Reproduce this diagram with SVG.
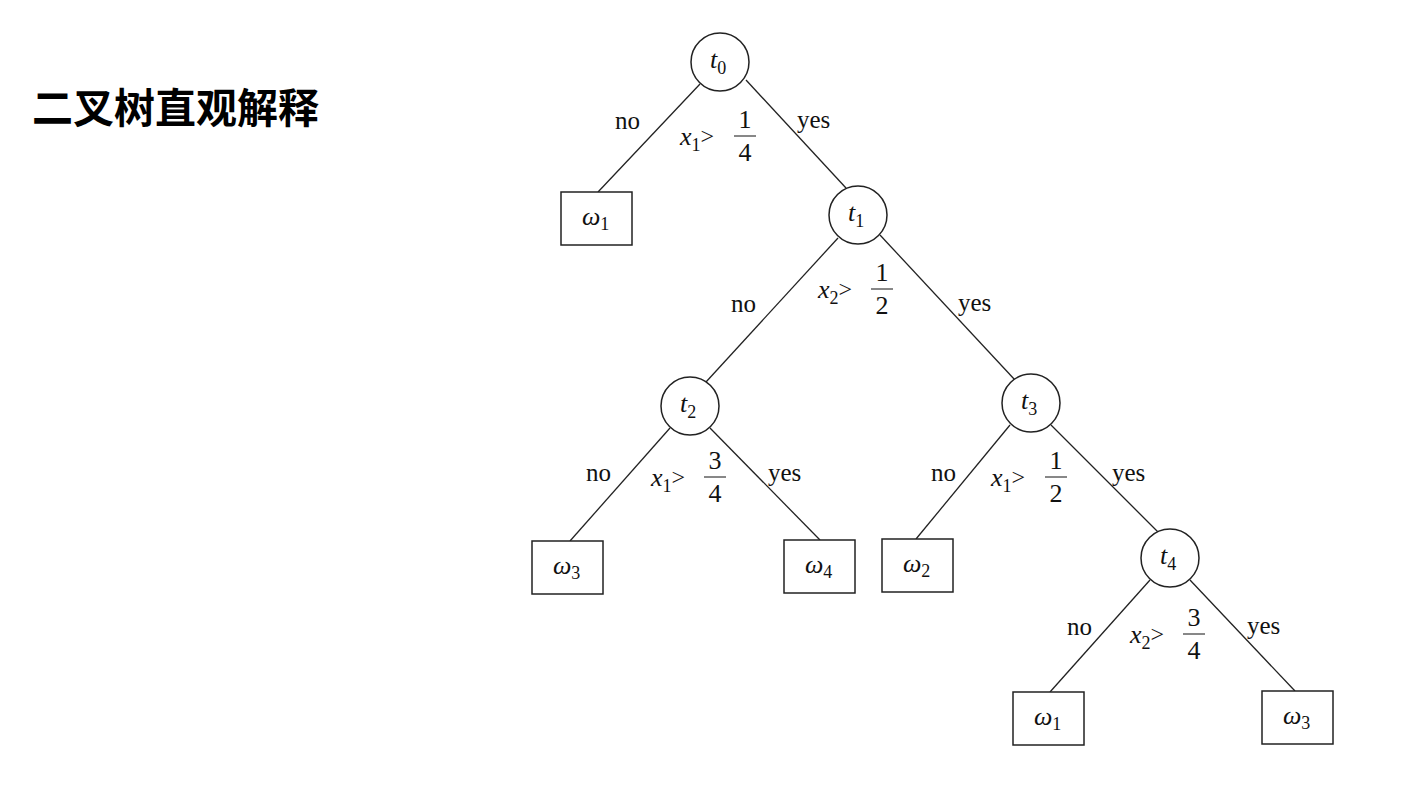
<svg xmlns="http://www.w3.org/2000/svg" width="1415" height="786" viewBox="0 0 1415 786">
<style>
.n circle,.n rect{fill:#fff;stroke:#222;stroke-width:1.5}
.e line{stroke:#222;stroke-width:1.3}
text{font-family:"Liberation Serif",serif;font-size:26px;fill:#111}
.m{font-style:italic}
.s{font-size:18px;font-style:normal}
.lbl{font-size:25px}
.fr{font-size:26px;text-anchor:middle}
.g{font-style:normal;font-size:24px}
.title{font-family:"Noto Sans CJK SC",sans-serif;font-size:41px;font-weight:bold;fill:#000}
</style>
<rect width="1415" height="786" fill="#fff"/>
<text class="title" x="32" y="123">二叉树直观解释</text>
<g id="edges" class="e">
<line x1="700" y1="84" x2="598" y2="192"/>
<line x1="746" y1="80" x2="846" y2="188"/>
<line x1="838" y1="238" x2="706" y2="382"/>
<line x1="880" y1="235" x2="1015" y2="380"/>
<line x1="670" y1="428" x2="570" y2="541"/>
<line x1="710" y1="428" x2="820" y2="540"/>
<line x1="1010" y1="425" x2="916" y2="539"/>
<line x1="1051" y1="425" x2="1158" y2="532"/>
<line x1="1150" y1="580" x2="1050" y2="692"/>
<line x1="1190" y1="580" x2="1295" y2="691"/>
</g>
<g id="t0" class="n"><circle cx="720" cy="62" r="29"/><text class="m" x="710" y="68">t<tspan class="s" dy="6">0</tspan></text></g>
<g id="t1" class="n"><circle cx="858" cy="215" r="29"/><text class="m" x="848" y="221">t<tspan class="s" dy="6">1</tspan></text></g>
<g id="t2" class="n"><circle cx="690" cy="406" r="29"/><text class="m" x="680" y="412">t<tspan class="s" dy="6">2</tspan></text></g>
<g id="t3" class="n"><circle cx="1031" cy="403" r="29"/><text class="m" x="1021" y="409">t<tspan class="s" dy="6">3</tspan></text></g>
<g id="t4" class="n"><circle cx="1170" cy="558" r="29"/><text class="m" x="1160" y="564">t<tspan class="s" dy="6">4</tspan></text></g>
<g id="w1a" class="n"><rect x="561" y="192" width="71" height="53"/><text class="m" x="582" y="225">ω<tspan class="s" dy="5">1</tspan></text></g>
<g id="w3a" class="n"><rect x="532" y="541" width="71" height="53"/><text class="m" x="553" y="574">ω<tspan class="s" dy="5">3</tspan></text></g>
<g id="w4" class="n"><rect x="784" y="540" width="71" height="53"/><text class="m" x="805" y="573">ω<tspan class="s" dy="5">4</tspan></text></g>
<g id="w2" class="n"><rect x="882" y="539" width="71" height="53"/><text class="m" x="903" y="572">ω<tspan class="s" dy="5">2</tspan></text></g>
<g id="w1b" class="n"><rect x="1013" y="692" width="71" height="53"/><text class="m" x="1034" y="725">ω<tspan class="s" dy="5">1</tspan></text></g>
<g id="w3b" class="n"><rect x="1262" y="691" width="71" height="53"/><text class="m" x="1283" y="724">ω<tspan class="s" dy="5">3</tspan></text></g>
<g id="labels">
<text class="lbl" x="615" y="129">no</text><text class="lbl" x="797" y="128">yes</text>
<text class="m" x="680" y="145">x<tspan class="s" dy="6">1</tspan><tspan class="g" dy="-7">&gt;</tspan></text>
<text class="fr" x="745" y="128">1</text><line x1="734" y1="136" x2="756" y2="136" stroke="#111"/><text class="fr" x="745" y="161">4</text>

<text class="lbl" x="731" y="312">no</text><text class="lbl" x="958" y="311">yes</text>
<text class="m" x="818" y="298">x<tspan class="s" dy="6">2</tspan><tspan class="g" dy="-7">&gt;</tspan></text>
<text class="fr" x="882" y="281">1</text><line x1="871" y1="289" x2="893" y2="289" stroke="#111"/><text class="fr" x="882" y="314">2</text>

<text class="lbl" x="586" y="481">no</text><text class="lbl" x="768" y="481">yes</text>
<text class="m" x="651" y="486">x<tspan class="s" dy="6">1</tspan><tspan class="g" dy="-7">&gt;</tspan></text>
<text class="fr" x="715" y="469">3</text><line x1="704" y1="477" x2="726" y2="477" stroke="#111"/><text class="fr" x="715" y="502">4</text>

<text class="lbl" x="931" y="481">no</text><text class="lbl" x="1112" y="481">yes</text>
<text class="m" x="991" y="486">x<tspan class="s" dy="6">1</tspan><tspan class="g" dy="-7">&gt;</tspan></text>
<text class="fr" x="1056" y="469">1</text><line x1="1045" y1="477" x2="1067" y2="477" stroke="#111"/><text class="fr" x="1056" y="502">2</text>

<text class="lbl" x="1067" y="635">no</text><text class="lbl" x="1247" y="634">yes</text>
<text class="m" x="1130" y="643">x<tspan class="s" dy="6">2</tspan><tspan class="g" dy="-7">&gt;</tspan></text>
<text class="fr" x="1194" y="626">3</text><line x1="1183" y1="634" x2="1205" y2="634" stroke="#111"/><text class="fr" x="1194" y="659">4</text>
</g>
</svg>
